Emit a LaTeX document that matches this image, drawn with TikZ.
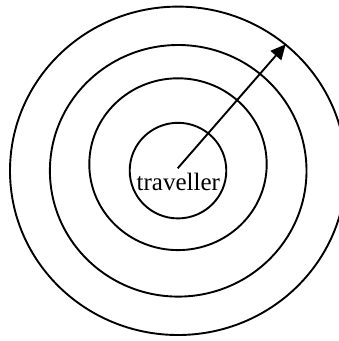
\documentclass[tikz,border=0pt]{standalone}
\usepackage{fontspec}
\setmainfont{Liberation Serif}
\usetikzlibrary{arrows.meta}
\begin{document}
\begin{tikzpicture}[x=1pt,y=-1pt,
  ring/.style={draw=black,line width=1.9pt},
  pointer/.style={draw=black,line width=1.9pt,-{Triangle[length=15pt,width=14pt]}}]
\useasboundingbox (0,0) rectangle (339,341);
\draw[ring] (178,170.6) ellipse [x radius=48.3, y radius=47.8];
\draw[ring] (178,164.2) ellipse [x radius=88.7, y radius=85.9];
\draw[ring] (178.2,170.8) ellipse [x radius=128.3, y radius=125.8];
\draw[ring] (178,170.8) ellipse [x radius=168, y radius=164.2];
\node[anchor=base,inner sep=0pt,font=\fontsize{25}{30}\selectfont] (label) at (178.3,190) {traveller};
\coordinate (start) at (177.7,168.3);
\coordinate (tip) at (285.7,44.3);
\draw[pointer] (start) -- (tip);
\end{tikzpicture}
\end{document}
